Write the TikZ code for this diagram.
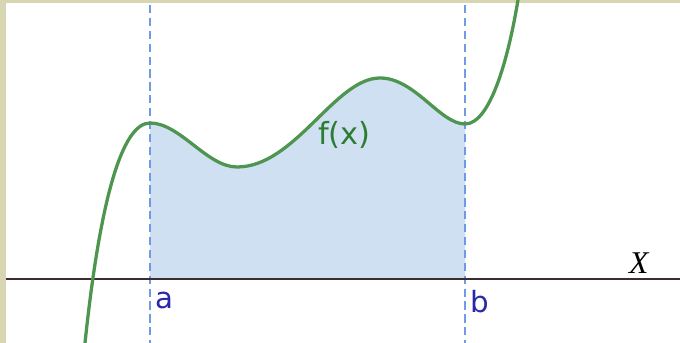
\documentclass[tikz,border=0pt]{standalone}
\usepackage{fontspec}
\setmainfont{DejaVu Sans}
\newfontfamily\axisfont{Liberation Serif}

\begin{document}
\begin{tikzpicture}[x=0.03cm, y=-0.03cm]
    % Define colors
    \definecolor{frameColour}{HTML}{D8D6B2}
    \definecolor{areaColour}{HTML}{CFE0F3}
    \definecolor{curveColour}{HTML}{4E9650}
    \definecolor{labelColour}{HTML}{2E7B32}
    \definecolor{boundColour}{HTML}{6F9BE6}
    \definecolor{boundText}{HTML}{2A28A8}
    \definecolor{axisColour}{HTML}{3E2C2C}

    % Define axis height and bounds
    \def\axisY{279}
    \def\boundA{150}
    \def\boundB{465}

    % Background and frame
    \useasboundingbox (0,0) rectangle (680,343);
    \fill[frameColour] (0,0) rectangle (680,343);
    \fill[white] (6,3) rectangle (680,343);

    % Points of the curve
    \coordinate (Start) at (85,343);
    \coordinate (MaxA) at (\boundA,123);
    \coordinate (MinA) at (237,167);
    \coordinate (MaxB) at (380,78);
    \coordinate (MinB) at (\boundB,124);
    \coordinate (End) at (518,0);

    % Fill the area between a and b
    \fill[areaColour] (\boundA,\axisY) -- (MaxA)
        .. controls (180,123) and (207,167) .. (MinA)
        .. controls (295,167) and (335,78) .. (MaxB)
        .. controls (415,78) and (440,124) .. (MinB)
        -- (\boundB,\axisY) -- cycle;

    % Draw bounds
    \draw[boundColour, line width=1.5pt, dash pattern=on 7pt off 4pt] (\boundA,5) -- (\boundA,343);
    \draw[boundColour, line width=1.5pt, dash pattern=on 7pt off 4pt] (\boundB,5) -- (\boundB,343);

    % Draw axis
    \draw[axisColour, line width=2.2pt] (6,\axisY) -- (680,\axisY);

    % Draw the curve
    \draw[curveColour, line width=2.8pt] (Start)
        .. controls (100,200) and (122,123) .. (MaxA)
        .. controls (180,123) and (207,167) .. (MinA)
        .. controls (295,167) and (335,78) .. (MaxB)
        .. controls (415,78) and (440,124) .. (MinB)
        .. controls (490,124) and (508,60) .. (End);

    % Labels
    \node[anchor=base west, inner sep=0pt, text=labelColour, font=\fontsize{26}{30}\selectfont] (fx) at (318,145) {f(x)};
    \node[anchor=base west, inner sep=0pt, text=boundText, font=\fontsize{25}{30}\selectfont] (a) at (155,308) {a};
    \node[anchor=base west, inner sep=0pt, text=boundText, font=\fontsize{25}{30}\selectfont] (b) at (470,312) {b};
    \node[anchor=base west, inner sep=0pt, font=\axisfont\itshape\fontsize{27}{30}\selectfont] (X) at (629,273) {X};
\end{tikzpicture}
\end{document}
